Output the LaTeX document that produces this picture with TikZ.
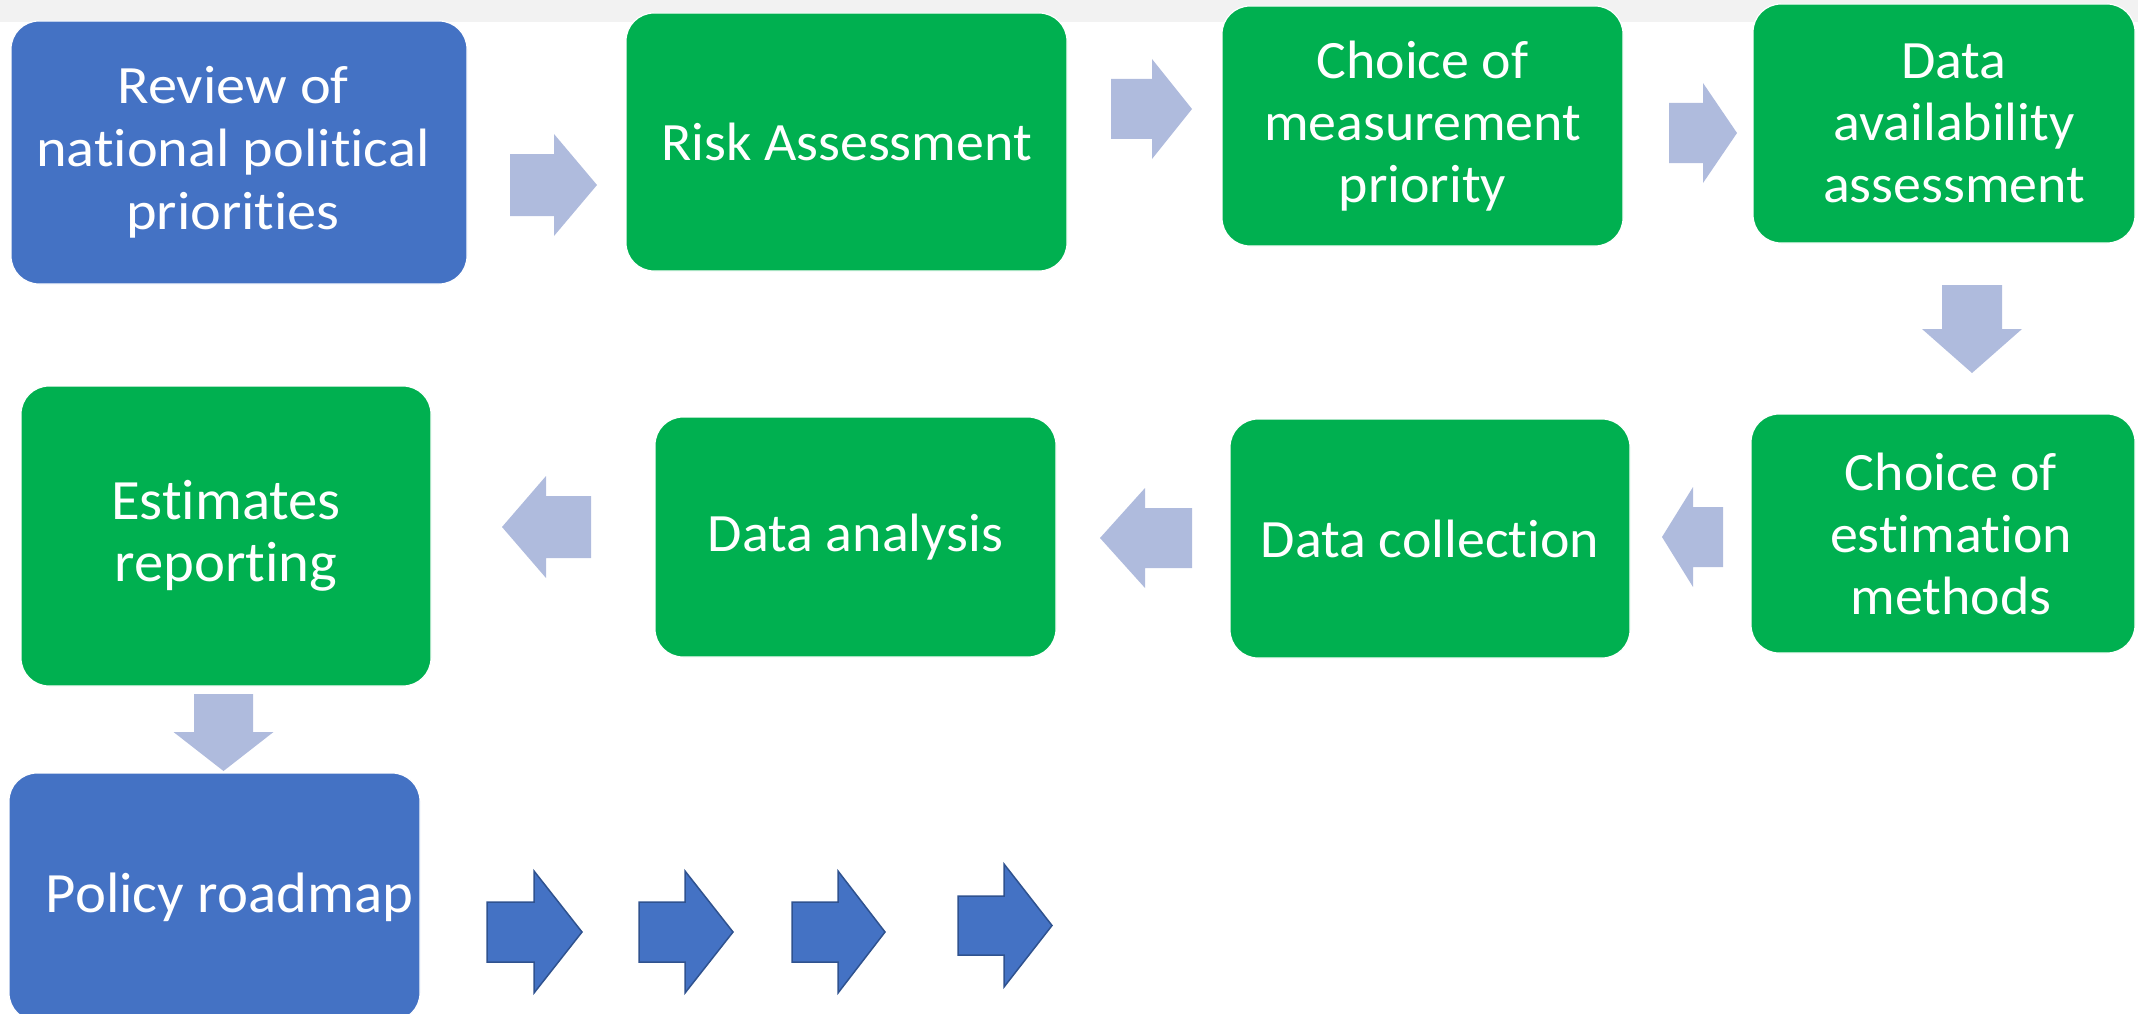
\documentclass[tikz,border=0pt]{standalone}
\usepackage{fontspec}
\setmainfont{Carlito}[Ligatures=NoCommon, FakeStretch=1.035]
\newfontfamily\widefont{Carlito}[Ligatures=NoCommon, FakeStretch=1.08]
\newfontfamily\leftfont{Carlito}[Ligatures=NoCommon, FakeStretch=1.03]
\definecolor{offgreen}{HTML}{00B050}
\definecolor{offblue}{HTML}{4472C4}
\definecolor{lightarrow}{HTML}{AFBBDD}
\definecolor{darkedge}{HTML}{2F528F}
\definecolor{topbar}{HTML}{F2F2F2}
% horizontal block arrow: style, tail x, head-base x, tip x, centre y, half shaft, half head
\newcommand{\blkH}[7]{\path[#1] (#2,#5-#6) -- (#3,#5-#6) -- (#3,#5-#7) -- (#4,#5) -- (#3,#5+#7) -- (#3,#5+#6) -- (#2,#5+#6) -- cycle;}
% vertical block arrow: style, tail y, head-base y, tip y, centre x, half shaft, half head
\newcommand{\blkV}[7]{\path[#1] (#5-#6,#2) -- (#5-#6,#3) -- (#5-#7,#3) -- (#5,#4) -- (#5+#7,#3) -- (#5+#6,#3) -- (#5+#6,#2) -- cycle;}
\begin{document}
\begin{tikzpicture}[x=1pt,y=-1pt,
  box/.style={draw=white, line width=1.2pt, rounded corners=28pt, text=white,
    align=center, inner sep=0pt, font=\fontsize{54}{62}\selectfont},
  greenbox/.style={box, fill=offgreen},
  bluebox/.style={box, fill=offblue},
  bigtext/.style={font=\leftfont\fontsize{57}{62}\selectfont},
  lightarr/.style={fill=lightarrow},
  darkarr/.style={fill=offblue, draw=darkedge, line width=1.5pt, line join=miter}]
\useasboundingbox (0,0) rectangle (2138,1014);
\clip (0,0) rectangle (2138,1014);
\fill[topbar] (0,0) rectangle (2138,22);

% boxes
\node[bluebox, font=\widefont\fontsize{54}{63}\selectfont, minimum width=456pt, minimum height=263pt] (review) at (239,152.5)
  {\hspace*{-12pt}Review of\\\hspace*{-12pt}national political\\\hspace*{-12pt}priorities};
\node[greenbox, minimum width=441pt, minimum height=258pt] (risk) at (846.5,142)
  {Risk Assessment};
\node[greenbox, minimum width=401pt, minimum height=240pt] (measure) at (1422.5,126)
  {Choice of\\measurement\\priority};
\node[greenbox, minimum width=382pt, minimum height=239pt] (avail) at (1944,123.5)
  {\hspace*{20pt}Data\\\hspace*{20pt}availability\\\hspace*{20pt}assessment};
\node[greenbox, minimum width=384pt, minimum height=239pt] (estim) at (1943,533.5)
  {\hspace*{16pt}Choice of\\\hspace*{16pt}estimation\\\hspace*{16pt}methods};
\node[greenbox, minimum width=400pt, minimum height=239pt] (collect) at (1430,538.5)
  {Data collection};
\node[greenbox, minimum width=401pt, minimum height=240pt] (analysis) at (855.5,537)
  {Data analysis};
\node[greenbox, bigtext, minimum width=410pt, minimum height=300pt] (report) at (226,536)
  {Estimates\\reporting};
\node[bluebox, bigtext, minimum width=411pt, minimum height=248pt] (roadmap) at (214.5,897)
  {\hspace*{30pt}Policy roadmap};

% light block arrows between the steps
\blkH{lightarr}{510}{554}{597}{185}{31}{51}
\blkH{lightarr}{1111}{1152}{1192}{109}{30}{50}
\blkH{lightarr}{1669}{1703}{1737}{133}{30}{50}
\blkV{lightarr}{285}{329}{373}{1972}{30}{50}
\blkH{lightarr}{1723}{1693}{1662}{537}{30}{50}
\blkH{lightarr}{1192}{1145}{1100}{538}{30}{50}
\blkH{lightarr}{591}{546}{502}{527}{31}{51}
\blkV{lightarr}{694}{732}{771}{223.5}{29.5}{50}

% dark block arrows after the roadmap
\blkH{darkarr}{487}{534}{582}{932}{30}{61}
\blkH{darkarr}{639}{685}{733}{932}{30}{61}
\blkH{darkarr}{792}{838}{885}{932}{30}{61}
\blkH{darkarr}{958}{1004}{1052}{925.5}{29.5}{61.5}
\end{tikzpicture}
\end{document}
